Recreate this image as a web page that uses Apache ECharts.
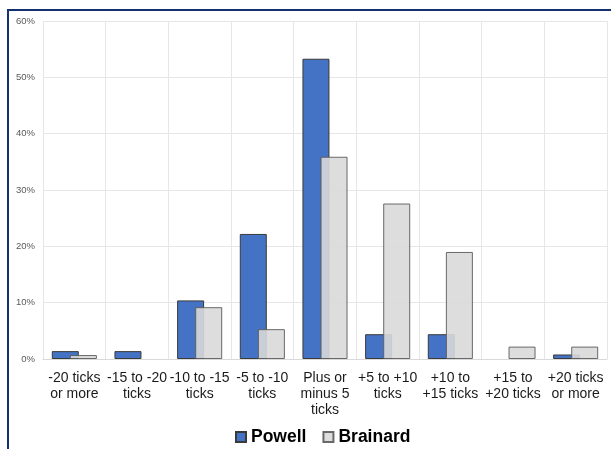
<!DOCTYPE html>
<html>
<head>
<meta charset="utf-8">
<script src="https://cdn.jsdelivr.net/npm/echarts@6/dist/echarts.min.js"></script>
<style>
html,body{margin:0;padding:0;background:#fff;}
#chart{width:611px;height:449px;}
</style>
</head>
<body>
<div id="chart"></div>
<script>
const categories = [
  "-20 ticks\nor more",
  "-15 to -20\nticks",
  "-10 to -15\nticks",
  "-5 to -10\nticks",
  "Plus or\nminus 5\nticks",
  "+5 to +10\nticks",
  "+10 to\n+15 ticks",
  "+15 to\n+20 ticks",
  "+20 ticks\nor more"
];
const powell = [1.4, 1.4, 10.4, 22.2, 53.3, 4.4, 4.4, 0, 0.8];
const brainard = [0.7, 0, 9.2, 5.3, 35.9, 27.6, 19.0, 2.2, 2.2];
const seriesNames = ["Powell", "Brainard"];

function toData(arr) {
  return arr.map(v => v === 0 ? {value: 0, itemStyle: {borderWidth: 0, opacity: 0}} : v);
}

const chart = echarts.init(document.getElementById('chart'), null, {renderer: 'canvas'});
chart.setOption({
  animation: false,
  backgroundColor: '#ffffff',
  graphic: [{
    type: 'rect',
    shape: {x: 8, y: 10, width: 640, height: 480},
    style: {fill: 'none', stroke: '#14306e', lineWidth: 2},
    z: 100
  }],
  grid: {left: 43, right: 4, top: 21, bottom: 90},
  legend: {
    left: 230,
    top: 423,
    itemWidth: 10,
    itemHeight: 10,
    itemGap: 16,
    icon: 'rect',
    textStyle: {fontFamily: 'Liberation Sans, Arial', fontSize: 17.5, fontWeight: 'bold', color: '#000'},
    data: seriesNames
  },
  xAxis: {
    type: 'category',
    data: categories,
    boundaryGap: true,
    axisLine: {show: true, lineStyle: {color: '#d9d9d9'}},
    axisTick: {show: false},
    splitLine: {show: true, lineStyle: {color: '#e6e6e6', width: 1}},
    axisLabel: {
      interval: 0,
      margin: 11,
      fontFamily: 'Liberation Sans, Arial',
      fontSize: 14,
      lineHeight: 16,
      color: '#1a1a1a'
    }
  },
  yAxis: {
    type: 'value',
    min: 0,
    max: 60,
    interval: 10,
    axisLine: {show: false},
    axisTick: {show: false},
    splitLine: {lineStyle: {color: '#e6e6e6', width: 1}},
    axisLabel: {
      formatter: '{value}%',
      margin: 8,
      fontFamily: 'Liberation Sans, Arial',
      fontSize: 9.5,
      color: '#595959'
    }
  },
  series: [
    {
      name: seriesNames[0],
      type: 'bar',
      data: toData(powell),
      barWidth: 27,
      barGap: '-33%',
      itemStyle: {color: '#4472c4', borderColor: '#3a3a3a', borderWidth: 1}
    },
    {
      name: seriesNames[1],
      type: 'bar',
      data: toData(brainard),
      barWidth: 27,
      barGap: '-33%',
      itemStyle: {color: '#d9d9d9', borderColor: '#5a5a5a', borderWidth: 1, opacity: 0.9}
    }
  ]
});
</script>
</body>
</html>
